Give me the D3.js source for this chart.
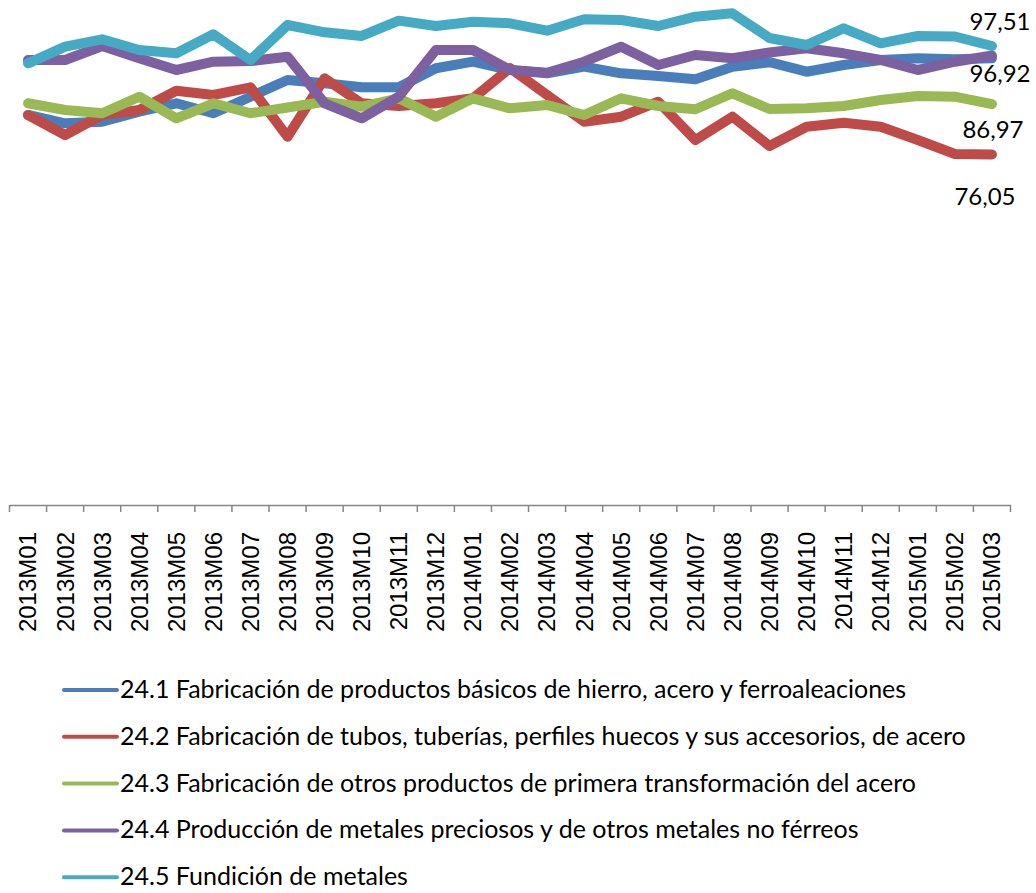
<!DOCTYPE html>
<html>
<head>
<meta charset="utf-8">
<script src="https://cdn.jsdelivr.net/npm/d3@7"></script>
<style>
  body { margin: 0; background: #fff; }
  svg { display: block; }
</style>
</head>
<body>
<svg id="chart" width="1036" height="893"></svg>
<script>
/*
* Data (indices, base 2010 = 100 style values)
*/
var categories = ["2013M01", "2013M02", "2013M03", "2013M04", "2013M05", "2013M06", "2013M07",
  "2013M08", "2013M09", "2013M10", "2013M11", "2013M12", "2014M01", "2014M02", "2014M03",
  "2014M04", "2014M05", "2014M06", "2014M07", "2014M08", "2014M09", "2014M10", "2014M11",
  "2014M12", "2015M01", "2015M02", "2015M03"];

var s241 = [84.60, 82.80, 83.15, 85.32, 87.14, 84.97, 88.57, 92.19, 91.47, 90.61, 90.61, 94.73, 96.16,
  94.36, 93.64, 95.08, 93.64, 93.06, 92.34, 95.08, 96.05, 93.99, 95.44, 96.53, 96.90, 96.68, 96.92];
var s242 = [84.60, 80.26, 84.60, 85.68, 89.87, 88.94, 90.61, 79.89, 92.56, 87.14, 86.55, 87.14, 88.22,
  94.79, 88.94, 83.15, 84.23, 87.48, 79.18, 84.23, 77.88, 82.06, 82.93, 82.06, 79.18, 76.14, 76.05];
var s243 = [87.14, 85.68, 84.97, 88.57, 83.88, 87.14, 84.97, 86.23, 87.48, 86.40, 88.22, 84.23, 88.22,
  86.05, 86.77, 84.60, 88.22, 86.55, 85.84, 89.31, 85.90, 86.05, 86.55, 87.85, 88.72, 88.57, 86.97];
var s244 = [96.53, 96.53, 99.57, 96.90, 94.36, 96.16, 96.31, 97.25, 87.14, 83.88, 88.57, 98.70, 98.70,
  94.36, 93.78, 96.16, 99.42, 95.44, 97.61, 96.90, 98.16, 99.07, 97.98, 96.53, 94.36, 96.16, 97.51];
var s245 = [95.81, 99.42, 101.02, 98.70, 97.98, 102.10, 96.53, 104.12, 102.54, 101.74, 105.06, 103.90, 104.84,
  104.49, 102.89, 105.36, 105.21, 103.90, 105.92, 106.66, 101.30, 99.78, 103.41, 100.15, 101.74, 101.63, 99.57];

var seriesNames = [
  "24.1 Fabricación de productos básicos de hierro, acero y ferroaleaciones",
  "24.2 Fabricación de tubos, tuberías, perfiles huecos y sus accesorios, de acero",
  "24.3 Fabricación de otros productos de primera transformación del acero",
  "24.4 Producción de metales preciosos y de otros metales no férreos",
  "24.5 Fundición de metales"
];

var colors = ["#4a7ebb", "#be4b48", "#98b954", "#7d60a0", "#46aac5"];

var series = [s241, s242, s243, s244, s245].map(function(values, i) {
  return {name: seriesNames[i], color: colors[i], values: values};
});

var svg = d3.select("#chart");

var axis_y = 505;

var x = d3.scaleBand()
  .domain(categories)
  .range([9.5, 1010.5]);

var y = d3.scaleLinear()
  .domain([0, 110])
  .range([axis_y, -2.1]);

function cx(d) { return x(d) + x.bandwidth() / 2; }

/*
* X axis with ticks between the categories
*/
var axis_g = svg.append("g")
  .attr("transform", "translate(0," + axis_y + ")")
  .call(d3.axisBottom(x).tickSize(0).tickSizeOuter(0));

axis_g.select(".domain")
  .attr("stroke", "#868686")
  .attr("stroke-width", 1.5);

axis_g.selectAll(".tick text")
  .attr("transform", "rotate(-90)")
  .attr("x", -27)
  .attr("y", 0)
  .attr("dy", "0.35em")
  .attr("text-anchor", "end")
  .attr("font-family", "'Liberation Sans', Arial, sans-serif")
  .attr("font-size", 24)
  .attr("fill", "#000");

axis_g.selectAll("line.sep")
  .data(categories.concat(["end"]))
  .enter()
  .append("line")
  .attr("class", "sep")
  .attr("x1", function(d) { return d === "end" ? x.range()[1] : x(d); })
  .attr("x2", function(d) { return d === "end" ? x.range()[1] : x(d); })
  .attr("y1", 0)
  .attr("y2", 7)
  .attr("stroke", "#868686")
  .attr("stroke-width", 1.5);

/*
* Lines
*/
var line_function = d3.line()
  .x(function(d, i) { return cx(categories[i]); })
  .y(function(d) { return y(d); });

svg.append("g").selectAll("path")
  .data(series)
  .enter()
  .append("path")
  .attr("d", function(d) { return line_function(d.values); })
  .attr("fill", "none")
  .attr("stroke", function(d) { return d.color; })
  .attr("stroke-width", 10)
  .attr("stroke-linejoin", "round")
  .attr("stroke-linecap", "round");

/*
* End value labels (moved by hand in the original)
*/
var fmt = function(v) { return d3.format(".2f")(v).replace(".", ","); };
var end_labels = [
  {s: 3, dx: 8, dy: -25.5},
  {s: 0, dx: 8, dy: 24},
  {s: 2, dx: 1, dy: 34},
  {s: 1, dx: -7, dy: 50.6}
];
var last = categories[categories.length - 1];

svg.append("g").selectAll("text")
  .data(end_labels)
  .enter()
  .append("text")
  .attr("x", function(d) { return cx(last) + d.dx; })
  .attr("y", function(d) { var v = series[d.s].values; return y(v[v.length - 1]) + d.dy; })
  .attr("text-anchor", "middle")
  .attr("font-family", "Lato, sans-serif")
  .attr("font-size", 24)
  .attr("fill", "#000")
  .text(function(d) { var v = series[d.s].values; return fmt(v[v.length - 1]); });

/*
* Legend
*/
var legend = svg.append("g").selectAll("g")
  .data(series)
  .enter()
  .append("g")
  .attr("transform", function(d, i) { return "translate(0," + (690 + i * 46.8) + ")"; });

legend.append("line")
  .attr("x1", 64)
  .attr("x2", 117)
  .attr("stroke", function(d) { return d.color; })
  .attr("stroke-width", 4)
  .attr("stroke-linecap", "round");

legend.append("text")
  .attr("x", 120)
  .attr("y", 8)
  .attr("font-family", "Lato, sans-serif")
  .attr("font-size", 25)
  .attr("fill", "#000")
  .text(function(d) { return d.name; });
</script>
</body>
</html>
